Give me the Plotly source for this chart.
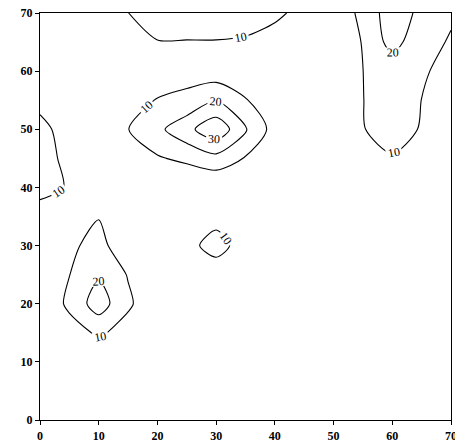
import plotly.graph_objects as go

# Grid coordinates (same spacing on both axes)
x_vals = [0, 5, 10, 15, 20, 25, 30, 35, 40, 45, 50, 55, 60, 65, 70]
y_vals = [0, 5, 10, 15, 20, 25, 30, 35, 40, 45, 50, 55, 60, 65, 70]

# Field values, one row per y value (bottom to top)
z_y00 = [0, 0, 0, 0, 0, 0, 0, 0, 0, 0, 0, 0, 0, 0, 0]
z_y05 = [0, 0, 1, 1, 0, 0, 0, 0, 0, 0, 0, 0, 0, 0, 0]
z_y10 = [0, 1, 1.8, 1, 0, 0, 0, 0, 0, 0, 0, 0, 0, 0, 0]
z_y15 = [0, 4.7, 11.8, 5.4, 1, 0, 0, 0, 0, 0, 0, 0, 0, 0, 0]
z_y20 = [0, 12.5, 25, 11.8, 1.8, 1, 0, 0, 0, 0, 0, 0, 0, 0, 0]
z_y25 = [1, 9.8, 18.9, 9.4, 2, 2, 2.5, 1, 0, 0, 0, 0, 0, 0, 0]
z_y30 = [2, 7.75, 14, 1.5, 1, 6.1, 15, 4.1, 1, 0, 0, 0, 0, 0, 0]
z_y35 = [4.5, 6, 9.5, 3, 1, 2, 5.7, 2, 1, 0, 0, 0, 0, 0, 0]
z_y40 = [14, 9, 4, 2, 2, 0, 0, 0, 1, 1, 1, 2, 3, 2, 1]
z_y45 = [14, 7.33, 3, 6, 9, 12.3, 16.8, 9.25, 3, 1, 3, 6, 9.6, 6, 3]
z_y50 = [13, 5.5, 3, 9.8, 17.5, 27.1, 37.4, 21.25, 5.65, 2, 4, 9.8, 12, 9.67, 5]
z_y55 = [7, 3, 2, 6, 10.5, 12, 19.5, 10.3, 7.8, 3, 4, 9.9, 13, 9.94, 5]
z_y60 = [3, 2, 2, 3, 4, 7, 4, 5, 3, 1, 3, 9.95, 14, 11, 7.4]
z_y65 = [2, 2, 2, 5, 9.6, 9.6, 9.6, 9, 6, 3, 3, 10.5, 24, 13, 9.25]
z_y70 = [2, 3, 5, 9.9, 15, 15, 15, 14, 12, 7, 5, 11.9, 26.4, 17.3, 11.1]

z_rows = [z_y00, z_y05, z_y10, z_y15, z_y20, z_y25, z_y30, z_y35,
          z_y40, z_y45, z_y50, z_y55, z_y60, z_y65, z_y70]

# Contour levels and axis ticks
level_start, level_end, level_step = 10, 30, 10
tick_vals = [0, 10, 20, 30, 40, 50, 60, 70]

serif = "Liberation Serif, Times New Roman, serif"

fig = go.Figure(
    go.Contour(
        x=x_vals,
        y=y_vals,
        z=z_rows,
        contours=dict(
            start=level_start,
            end=level_end,
            size=level_step,
            coloring="none",
            showlabels=True,
            labelfont=dict(family=serif, size=12, color="black"),
        ),
        colorscale=[[0, "black"], [1, "black"]],
        line=dict(color="black", width=1.1, smoothing=0.8),
        showscale=False,
        hoverinfo="skip",
    )
)

axis_common = dict(
    range=[0, 70],
    tickvals=tick_vals,
    ticks="outside",
    ticklen=4,
    tickwidth=1,
    tickcolor="black",
    showline=True,
    linecolor="black",
    linewidth=1.3,
    mirror=True,
    showgrid=False,
    zeroline=False,
    automargin=False,
    ticklabeloverflow="allow",
    tickfont=dict(family=serif, size=12, color="black", weight="bold"),
)

fig.update_layout(
    width=455,
    height=448,
    margin=dict(l=40, r=4, t=13, b=28, autoexpand=False),
    paper_bgcolor="white",
    plot_bgcolor="white",
    xaxis=dict(**axis_common),
    yaxis=dict(**axis_common),
    showlegend=False,
)

fig.write_html("out.html")
